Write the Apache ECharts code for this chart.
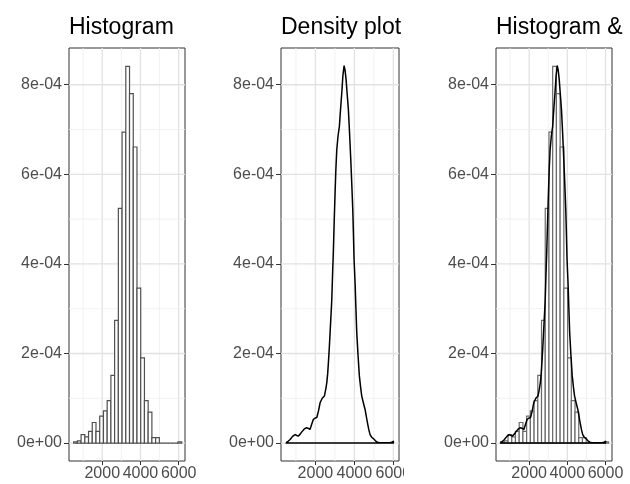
<!DOCTYPE html>
<html>
<head>
<meta charset="utf-8">
<script src="https://cdn.jsdelivr.net/npm/echarts@6/dist/echarts.min.js"></script>
<style>
html,body{margin:0;padding:0;background:#fff;}
#chart{width:630px;height:484px;}
</style>
</head>
<body>
<div id="chart"></div>
<script>
// ---- data ----
const panelTitles = ['Histogram', 'Density plot', 'Histogram &'];
const binWidth = 195;
const binCenters = [600, 795, 990, 1185, 1380, 1575, 1770, 1965, 2160, 2355, 2550, 2745, 2940, 3135, 3330,
                    3525, 3720, 3915, 4110, 4305, 4500, 4695, 4890, 5085, 5280, 5475, 5670, 5865, 6060];
const binDensity = [0.03e-4, 0.05e-4, 0.19e-4, 0.14e-4, 0.26e-4, 0.46e-4, 0.26e-4, 0.60e-4, 0.72e-4, 0.95e-4,
                    1.51e-4, 2.74e-4, 5.24e-4, 6.94e-4, 8.41e-4, 7.80e-4, 6.61e-4, 3.46e-4, 1.90e-4, 0.95e-4,
                    0.69e-4, 0.12e-4, 0.12e-4, 0, 0, 0, 0, 0, 0.03e-4];
const densX = [497, 600, 703, 830, 959, 1050, 1128, 1220, 1302, 1420, 1523, 1620, 1728, 1810, 1897, 1990, 2072,
               2160, 2241, 2350, 2462, 2530, 2585, 2630, 2667, 2710, 2754, 2800, 2841, 2880, 2923, 2965, 3010,
               3050, 3097, 3160, 3231, 3290, 3354, 3410, 3472, 3520, 3574, 3630, 3692, 3750, 3815, 3870, 3918,
               3950, 3985, 4036, 4080, 4123, 4190, 4256, 4320, 4379, 4460, 4549, 4610, 4667, 4740, 4805, 4890,
               4974, 5080, 5180, 5300, 5487, 5700, 5831, 5920, 6000];
const densY = [0.01, 0.04, 0.08, 0.15, 0.19, 0.17, 0.16, 0.20, 0.25, 0.31, 0.34, 0.33, 0.31, 0.42, 0.53, 0.56, 0.57,
               0.72, 0.90, 1.00, 1.05, 1.20, 1.35, 1.55, 1.79, 2.10, 2.46, 2.85, 3.20, 3.75, 4.30, 4.95, 5.59,
               6.10, 6.55, 6.85, 7.07, 7.45, 7.82, 8.20, 8.42, 8.33, 8.12, 7.80, 7.45, 6.95, 6.33, 5.75, 5.21,
               4.70, 4.10, 3.58, 3.00, 2.46, 1.95, 1.50, 1.25, 1.05, 0.90, 0.75, 0.60, 0.46, 0.30, 0.19, 0.13,
               0.10, 0.05, 0.02, 0.01, 0.01, 0.01, 0.01, 0.02, 0.04].map(v => v * 1e-4);
const xTickValues = [2000, 4000, 6000];
const xTickLabels = ['2000', '4000', '6000'];
const xMinorValues = [1000, 3000, 5000];
const yTickValues = [0, 2e-4, 4e-4, 6e-4, 8e-4];
const yTickLabels = ['0e+00', '2e-04', '4e-04', '6e-04', '8e-04'];
const yMinorValues = [1e-4, 3e-4, 5e-4, 7e-4];

// ---- layout ----
const grids = [
  {left: 69, top: 48, width: 116, height: 413},
  {left: 281, top: 48, width: 118, height: 413},
  {left: 496, top: 48, width: 116, height: 413}
];
const xRanges = [[260, 6330], [235, 6290], [262, 6340]];
const yRange = [-0.4e-4, 8.82e-4];
const FONT = '"Liberation Sans", Arial, Helvetica, sans-serif';
const labelColor = '#4D4D4D';

function nearestLabel(values, labels, v) {
  let best = 0;
  for (let i = 1; i < values.length; i++) {
    if (Math.abs(values[i] - v) < Math.abs(values[best] - v)) best = i;
  }
  return labels[best];
}

const gridLineData = [];
xTickValues.forEach(v => gridLineData.push([0, v]));
xMinorValues.forEach(v => gridLineData.push([1, v]));
yTickValues.forEach(v => gridLineData.push([2, v]));
yMinorValues.forEach(v => gridLineData.push([3, v]));

function gridLineSeries(i) {
  return {
    type: 'custom', xAxisIndex: i, yAxisIndex: i, silent: true, z: 1,
    data: gridLineData,
    renderItem: function (params, api) {
      const cs = params.coordSys;
      const kind = api.value(0), v = api.value(1);
      let shape;
      if (kind < 2) {
        const px = api.coord([v, 0])[0];
        shape = {x1: px, y1: cs.y, x2: px, y2: cs.y + cs.height};
      } else {
        const py = api.coord([xRanges[i][0], v])[1];
        shape = {x1: cs.x, y1: py, x2: cs.x + cs.width, y2: py};
      }
      const major = (kind === 0 || kind === 2);
      return {type: 'line', shape: shape,
        style: {stroke: major ? '#E2E2E2' : '#EEEEEE', lineWidth: major ? 1.3 : 0.8}};
    }
  };
}

function histSeries(i, stroke) {
  return {
    type: 'custom', xAxisIndex: i, yAxisIndex: i, silent: true, z: 2,
    data: binCenters.map((c, k) => [c, binDensity[k]]),
    renderItem: function (params, api) {
      const c = api.value(0), v = api.value(1);
      const p0 = api.coord([c - binWidth / 2, 0]);
      const p1 = api.coord([c + binWidth / 2, v]);
      return {type: 'rect',
        shape: {x: p0[0], y: p1[1], width: p1[0] - p0[0], height: p0[1] - p1[1]},
        style: {fill: '#FFFFFF', stroke: stroke, lineWidth: 1.2}};
    }
  };
}

function densitySeries(i) {
  return {
    type: 'custom', xAxisIndex: i, yAxisIndex: i, silent: true, z: 3,
    data: [[0]],
    renderItem: function (params, api) {
      const pts = densX.map((x, k) => api.coord([x, densY[k]]));
      const last = densX.length - 1;
      pts.push(api.coord([densX[last], 0]));
      pts.push(api.coord([densX[0], 0]));
      pts.push(api.coord([densX[0], densY[0]]));
      return {type: 'polyline', shape: {points: pts},
        style: {fill: null, stroke: '#000', lineWidth: 1.5, lineJoin: 'round'}};
    }
  };
}

const option = {
  animation: false,
  backgroundColor: '#FFFFFF',
  title: panelTitles.map((t, i) => ({
    text: t, left: grids[i].left, top: 16, padding: 0,
    textStyle: {fontFamily: FONT, fontSize: 23, fontWeight: 'normal', color: '#000'}
  })),
  grid: grids.map(g => Object.assign({show: true, borderColor: '#333', borderWidth: 1, backgroundColor: '#fff'}, g)),
  xAxis: grids.map((g, i) => ({
    type: 'value', gridIndex: i, min: xRanges[i][0], max: xRanges[i][1],
    axisLine: {show: false, onZero: false},
    axisTick: {show: true, length: 4, lineStyle: {color: '#333', width: 1}, customValues: xTickValues},
    axisLabel: {customValues: xTickValues, margin: 5, color: labelColor, fontFamily: FONT, fontSize: 16,
      formatter: v => nearestLabel(xTickValues, xTickLabels, v)},
    splitLine: {show: false}
  })),
  yAxis: grids.map((g, i) => ({
    type: 'value', gridIndex: i, min: yRange[0], max: yRange[1],
    axisLine: {show: false, onZero: false},
    axisTick: {show: true, length: 5, lineStyle: {color: '#333', width: 1}, customValues: yTickValues},
    axisLabel: {customValues: yTickValues, margin: 7, color: labelColor, fontFamily: FONT, fontSize: 16,
      formatter: v => nearestLabel(yTickValues, yTickLabels, v)},
    splitLine: {show: false}
  })),
  series: [
    gridLineSeries(0), histSeries(0, '#505050'),
    gridLineSeries(1), densitySeries(1),
    gridLineSeries(2), histSeries(2, '#6A6A6A'), densitySeries(2)
  ],
  graphic: [
    {type: 'rect', left: 404, top: 463, shape: {width: 16, height: 21}, style: {fill: '#FFFFFF'}, z: 100}
  ]
};

const chart = echarts.init(document.getElementById('chart'), null, {renderer: 'canvas'});
chart.setOption(option);
</script>
</body>
</html>
